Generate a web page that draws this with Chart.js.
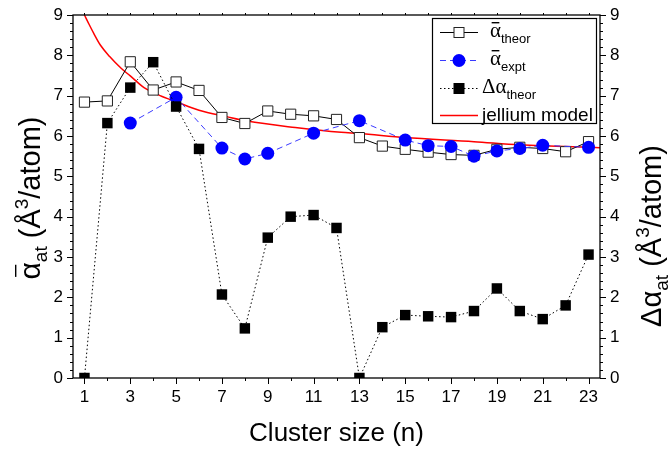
<!DOCTYPE html>
<html>
<head>
<meta charset="utf-8">
<script src="https://cdn.jsdelivr.net/npm/chart.js@4/dist/chart.umd.min.js"></script>
<style>
  html, body { margin: 0; padding: 0; background: #fff; }
  #wrap { width: 668px; height: 451px; }
</style>
</head>
<body>
<div id="wrap"><canvas id="myChart" width="668" height="451"></canvas></div>
<script>
// cluster sizes n = 1..23
var clusterSize = [1, 2, 3, 4, 5, 6, 7, 8, 9, 10, 11, 12, 13, 14, 15, 16, 17, 18, 19, 20, 21, 22, 23];
// mean theoretical polarizability per atom (open squares)
var alphaTheor = [6.84, 6.87, 7.84, 7.14, 7.34, 7.13, 6.46, 6.31, 6.62, 6.54, 6.50, 6.41,
                  5.96, 5.75, 5.67, 5.60, 5.54, 5.52, 5.67, 5.72, 5.69, 5.61, 5.86];
// experimental values (blue circles), only some sizes measured
var exptSize = [3, 5, 7, 8, 9, 11, 13, 15, 16, 17, 18, 19, 20, 21, 23];
var alphaExpt = [6.32, 6.96, 5.70, 5.43, 5.57, 6.07, 6.38, 5.90, 5.76, 5.74, 5.50, 5.63, 5.69, 5.77, 5.72];
// anisotropy (filled squares, right axis)
var deltaTheor = [0, 6.32, 7.20, 7.83, 6.73, 5.68, 2.07, 1.23, 3.48, 4.00, 4.04, 3.72,
                  0, 1.26, 1.56, 1.53, 1.51, 1.66, 2.22, 1.66, 1.46, 1.80, 3.06];
// jellium model curve
var jelliumSize = [1.0, 1.2, 1.4, 1.7, 2.1, 2.6, 3.0, 3.6, 4.3, 5.0, 6.0, 7.2, 8.1, 10.2, 12.2, 13, 15, 18, 20, 23.5];
var jelliumAlpha = [9.0, 8.77, 8.55, 8.25, 7.97, 7.68, 7.49, 7.20, 7.00, 6.85, 6.64, 6.48, 6.37, 6.21, 6.09, 6.06, 5.96, 5.86, 5.78, 5.71];
// tick labels
var xTickLabels = [1, 3, 5, 7, 9, 11, 13, 15, 17, 19, 21, 23];
var yTickLabels = [0, 1, 2, 3, 4, 5, 6, 7, 8, 9];

var FONT = 'Liberation Sans, Arial, sans-serif';

function pts(xs, ys) {
  return xs.map(function (x, i) { return { x: x, y: ys[i] }; });
}

// text pieces with sub/superscripts and overbars, drawn along a baseline
function richWidth(ctx, parts) {
  var w = 0;
  parts.forEach(function (p) {
    ctx.font = (p.size) + 'px ' + (p.family || FONT);
    w += ctx.measureText(p.t).width;
  });
  return w;
}
function richText(ctx, parts, x, y) {
  parts.forEach(function (p) {
    ctx.font = (p.size) + 'px ' + (p.family || FONT);
    var w = ctx.measureText(p.t).width;
    ctx.fillText(p.t, x, y + (p.dy || 0));
    if (p.bar) {
      ctx.fillRect(x + w * 0.15, y + p.bar, w * 0.7, 1.4);
    }
    x += w;
  });
  return x;
}

var framePlugin = {
  id: 'frame',
  afterDraw: function (chart) {
    var ctx = chart.ctx, a = chart.chartArea;
    var sx = chart.scales.x, sy = chart.scales.y;
    ctx.save();
    ctx.strokeStyle = '#000';
    ctx.fillStyle = '#000';
    ctx.lineWidth = 1.3;
    ctx.strokeRect(a.left, a.top, a.right - a.left, a.bottom - a.top);

    // minor / major ticks
    ctx.lineWidth = 1;
    ctx.beginPath();
    for (var i = 0; i <= 45; i++) {
      var y = Math.round(sy.getPixelForValue(i / 5)) + 0.5;
      var len = (i % 5 === 0) ? 6 : 3;
      ctx.moveTo(a.left - len, y); ctx.lineTo(a.left, y);
      ctx.moveTo(a.right, y); ctx.lineTo(a.right + len, y);
    }
    for (var n = 1; n <= 23; n++) {
      var x = Math.round(sx.getPixelForValue(n)) + 0.5;
      var l2 = (n % 2 === 1) ? 6 : 3;
      ctx.moveTo(x, a.bottom); ctx.lineTo(x, a.bottom + l2);
      ctx.moveTo(x, a.top); ctx.lineTo(x, a.top - 2);
    }
    ctx.stroke();

    // x title
    ctx.font = '26px ' + FONT;
    ctx.textAlign = 'center';
    ctx.textBaseline = 'alphabetic';
    ctx.fillText('Cluster size (n)', (a.left + a.right) / 2, 441);
    ctx.textAlign = 'left';

    // left y title
    var leftParts = [
      { t: 'α', size: 30, bar: -25 },
      { t: 'at', size: 19, dy: 7 },
      { t: ' (Å', size: 29 },
      { t: '3', size: 19, dy: -12 },
      { t: '/atom)', size: 29 }
    ];
    ctx.save();
    ctx.translate(40, 198);
    ctx.rotate(-Math.PI / 2);
    richText(ctx, leftParts, -richWidth(ctx, leftParts) / 2, 0);
    ctx.restore();

    // right y title
    var rightParts = [
      { t: 'Δα', size: 29 },
      { t: 'at', size: 19, dy: 7 },
      { t: ' (Å', size: 29 },
      { t: '3', size: 19, dy: -12 },
      { t: '/atom)', size: 29 }
    ];
    ctx.save();
    ctx.translate(661, 236);
    ctx.rotate(-Math.PI / 2);
    richText(ctx, rightParts, -richWidth(ctx, rightParts) / 2, 0);
    ctx.restore();

    // legend
    var lx = 432, ly = 18, lw = 164, lh = 105;
    ctx.fillStyle = '#fff';
    ctx.fillRect(lx, ly, lw, lh);
    ctx.strokeStyle = '#000';
    ctx.lineWidth = 1.2;
    ctx.strokeRect(lx + 0.5, ly + 0.5, lw, lh);
    var rows = [32, 60, 88, 115];
    var ds = chart.data.datasets;
    var greek = 'Liberation Serif, Times New Roman, serif';
    var labels = [
      [{ t: 'α', size: 21, family: greek, bar: -15 }, { t: 'theor', size: 13, dy: 6 }],
      [{ t: 'α', size: 21, family: greek, bar: -15 }, { t: 'expt', size: 13, dy: 6 }],
      [{ t: 'Δα', size: 21, family: greek }, { t: 'theor', size: 13, dy: 6 }],
      [{ t: 'jellium model', size: 19 }]
    ];
    var textX = [490, 490, 482, 482];
    rows.forEach(function (r, k) {
      var d = ds[k];
      ctx.save();
      ctx.strokeStyle = d.borderColor;
      ctx.lineWidth = d.borderWidth;
      ctx.setLineDash(d.borderDash || []);
      ctx.beginPath();
      ctx.moveTo(440, r + 0.5); ctx.lineTo(478, r + 0.5);
      ctx.stroke();
      ctx.setLineDash([]);
      if (d.pointRadius > 0) {
        ctx.fillStyle = d.pointBackgroundColor;
        ctx.strokeStyle = d.pointBorderColor;
        ctx.lineWidth = 1;
        if (d.pointStyle === 'circle') {
          ctx.beginPath(); ctx.arc(459, r + 0.5, 6.5, 0, Math.PI * 2); ctx.fill();
        } else {
          ctx.fillRect(454, r - 4.5, 10, 10);
          ctx.strokeRect(454, r - 4.5, 10, 10);
        }
      }
      ctx.restore();
      ctx.fillStyle = '#000';
      richText(ctx, labels[k], textX[k], r + (k === 3 ? 6 : 5));
    });
    ctx.restore();
  }
};

var ctx = document.getElementById('myChart').getContext('2d');
var chart = new Chart(ctx, {
  type: 'line',
  data: {
    datasets: [{
      label: 'alpha theor',
      data: pts(clusterSize, alphaTheor),
      borderColor: '#000',
      borderWidth: 1,
      pointStyle: 'rect',
      pointRadius: 7.2,
      pointBackgroundColor: '#fff',
      pointBorderColor: '#222',
      pointBorderWidth: 1,
      yAxisID: 'y',
      order: 2
    }, {
      label: 'alpha expt',
      data: pts(exptSize, alphaExpt),
      borderColor: '#3a3aff',
      borderWidth: 1,
      borderDash: [6, 4],
      pointStyle: 'circle',
      pointRadius: 6.5,
      pointBackgroundColor: '#0000ff',
      pointBorderColor: '#0000ff',
      pointBorderWidth: 0,
      yAxisID: 'y',
      order: 1
    }, {
      label: 'delta alpha theor',
      data: pts(clusterSize, deltaTheor),
      borderColor: '#000',
      borderWidth: 1,
      borderDash: [1.5, 2.5],
      pointStyle: 'rect',
      pointRadius: 7.4,
      pointBackgroundColor: '#000',
      pointBorderColor: '#000',
      pointBorderWidth: 0,
      yAxisID: 'y2',
      order: 0
    }, {
      label: 'jellium model',
      data: pts(jelliumSize, jelliumAlpha),
      borderColor: '#ff0000',
      borderWidth: 1.5,
      pointRadius: 0,
      cubicInterpolationMode: 'monotone',
      yAxisID: 'y',
      order: 3
    }]
  },
  options: {
    responsive: false,
    animation: false,
    devicePixelRatio: 1,
    layout: { padding: { top: 15, left: 0, right: 0, bottom: 0 } },
    plugins: { legend: { display: false }, tooltip: { enabled: false } },
    scales: {
      x: {
        type: 'linear',
        min: 0.5, max: 23.5,
        afterBuildTicks: function (s) { s.ticks = xTickLabels.map(function (v) { return { value: v }; }); },
        afterFit: function (s) { s.height = 73; },
        grid: { display: true, drawOnChartArea: false, drawTicks: true, tickLength: 6, color: 'rgba(0,0,0,0)' },
        border: { display: false },
        ticks: { color: '#000', font: { family: FONT, size: 17 }, padding: 3, maxRotation: 0 }
      },
      y: {
        position: 'left',
        min: 0, max: 9,
        afterBuildTicks: function (s) { s.ticks = yTickLabels.map(function (v) { return { value: v }; }); },
        afterFit: function (s) { s.width = 73; },
        grid: { display: true, drawOnChartArea: false, drawTicks: true, tickLength: 6, color: 'rgba(0,0,0,0)' },
        border: { display: false },
        ticks: { color: '#000', font: { family: FONT, size: 17 }, padding: 4 }
      },
      y2: {
        position: 'right',
        min: 0, max: 9,
        afterBuildTicks: function (s) { s.ticks = yTickLabels.map(function (v) { return { value: v }; }); },
        afterFit: function (s) { s.width = 68; },
        grid: { display: true, drawOnChartArea: false, drawTicks: true, tickLength: 6, color: 'rgba(0,0,0,0)' },
        border: { display: false },
        ticks: { color: '#000', font: { family: FONT, size: 17 }, padding: 4 }
      }
    }
  },
  plugins: [framePlugin]
});
</script>
</body>
</html>
